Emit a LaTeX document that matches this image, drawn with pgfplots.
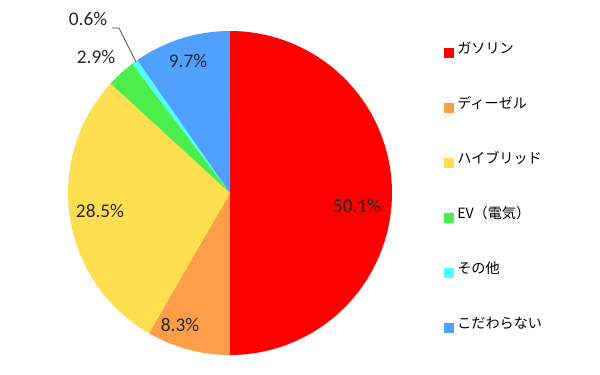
\documentclass[border=0pt]{standalone}
\usepackage{pgfplots}
\pgfplotsset{compat=1.18}
\usepackage{fontspec}
\setmainfont{Carlito}
\newfontfamily\jp{Noto Sans CJK JP}
\definecolor{cGas}{RGB}{255,0,0}
\definecolor{cDie}{RGB}{255,158,72}
\definecolor{cHyb}{RGB}{255,222,80}
\definecolor{cEV}{RGB}{76,238,76}
\definecolor{cOth}{RGB}{80,255,255}
\definecolor{cNon}{RGB}{80,160,255}
\definecolor{txt}{RGB}{38,38,38}
% slice: colour, cumulative start (%), cumulative end (%); total = 100.1
\newcommand\slice[3]{%
  \addplot[draw=none, fill=#1, domain={90-360*#3/100.1}:{90-360*#2/100.1}, samples=90, variable=\t]
    ({230+162*cos(\t)},{182+162*sin(\t)}) -- (230,182) -- cycle;}
\newcommand\legitem[3]{%
  \addplot[only marks, mark=square*, mark size=3.5pt, color=#1] coordinates {(449,#2)};
  \node[anchor=west, text=black, font=\jp\fontsize{10.6}{12}\selectfont, inner sep=0pt] at (457,#2+5) {#3};}
\begin{document}
\begin{tikzpicture}
\begin{axis}[scale only axis, width=450pt, height=281.25pt,
  xmin=0, xmax=600, ymin=0, ymax=375, hide axis, clip=false]
\path (0,0) rectangle (600,375);
% values: 50.1, 8.3, 28.5, 2.9, 0.6, 9.7
\slice{cGas}{0}{50.1}
\slice{cDie}{50.1}{58.4}
\slice{cHyb}{58.4}{86.9}
\slice{cEV}{86.9}{89.8}
\slice{cOth}{89.8}{90.4}
\slice{cNon}{90.4}{100.1}
\addplot[draw=black!70, line width=0.6pt] coordinates {(112,347) (119,347) (136,313)};
\begin{scope}[every node/.style={text=txt, font=\fontsize{14.5}{16}\selectfont, inner sep=0pt}]
\node at (357,169) {50.1\%};
\node at (180,50) {8.3\%};
\node at (100,164) {28.5\%};
\node at (96,318) {2.9\%};
\node at (88,356) {0.6\%};
\node at (188,314) {9.7\%};
\end{scope}
\legitem{cGas}{322}{ガソリン}
\legitem{cDie}{267}{ディーゼル}
\legitem{cHyb}{212}{ハイブリッド}
\legitem{cEV}{157}{EV（電気）}
\legitem{cOth}{102}{その他}
\legitem{cNon}{47}{こだわらない}
\end{axis}
\end{tikzpicture}
\end{document}
